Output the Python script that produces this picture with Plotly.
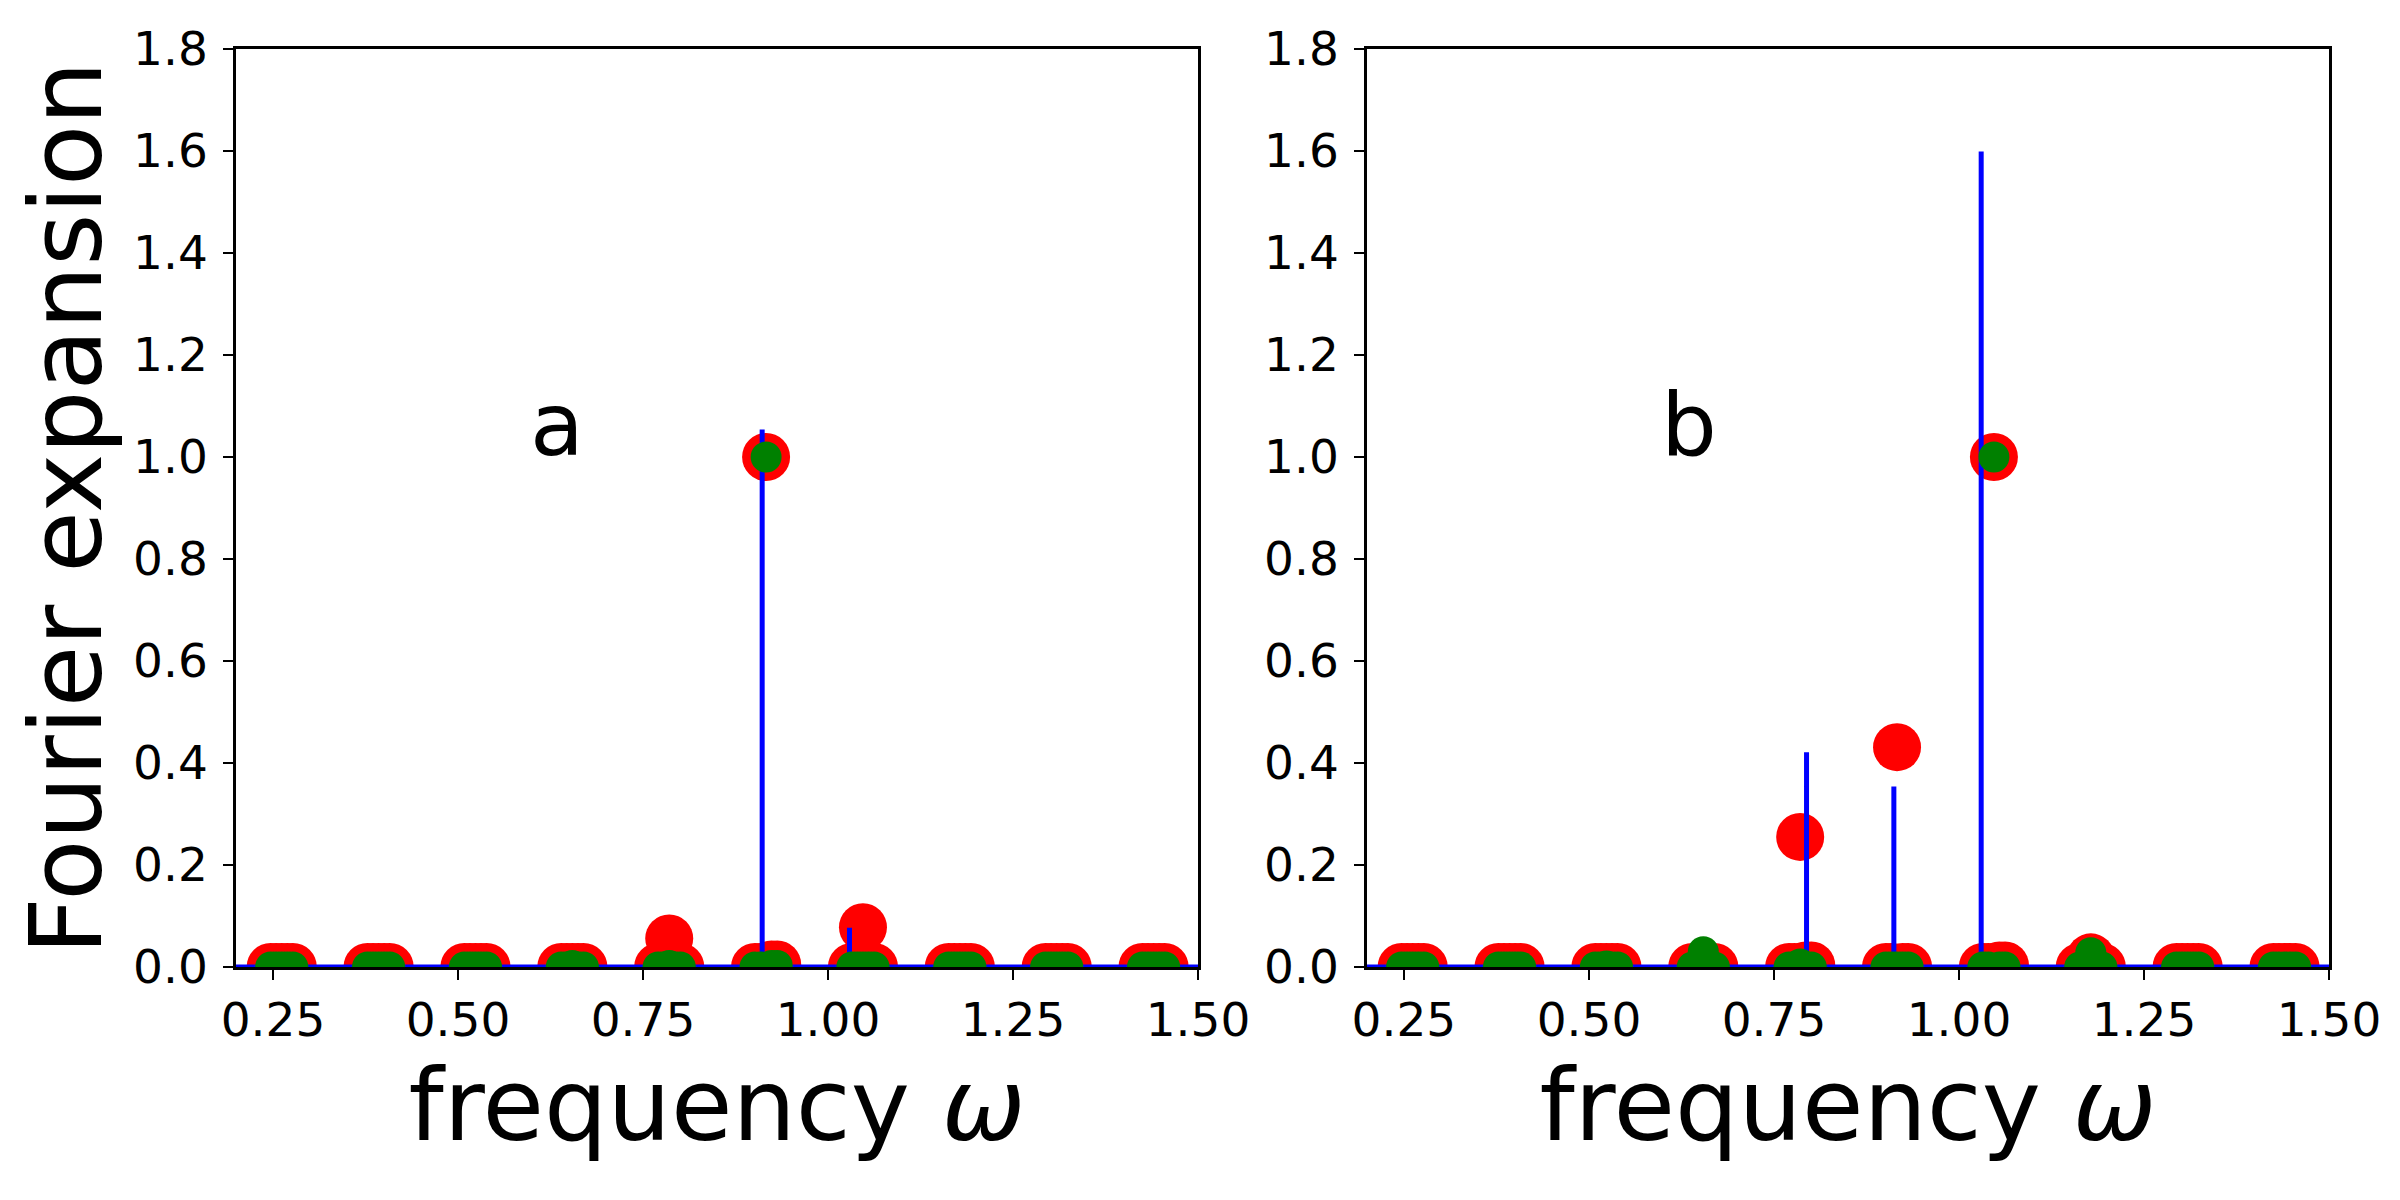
import plotly.graph_objects as go
from plotly.subplots import make_subplots

# frequencies omega_k = k*pi/24, k = 2..11
omega = [0.2618, 0.3927, 0.5236, 0.6545, 0.7854, 0.9163, 1.0472, 1.1781, 1.3090, 1.4399]
# each coefficient is drawn as a small cluster of points around omega_k
shifts = [-0.015, -0.0075, 0.0, 0.0075, 0.015]

# panel a: values at the cluster positions (left edge, centre, right edge)
red_a_lo = [0, 0, 0, 0, 0, 0, 0, 0, 0, 0]
red_a_mid = [0, 0, 0, 0, 0.056, 1.0, 0.078, 0, 0, 0]
red_a_hi = [0, 0, 0, 0, 0, 0.005, 0, 0, 0, 0]
green_a_lo = [0, 0, 0, 0, 0, 0, 0, 0, 0, 0]
green_a_mid = [0, 0, 0, 0.003, 0.003, 1.0, 0, 0, 0, 0]
green_a_hi = [0, 0, 0, 0, 0, 0.003, 0, 0, 0, 0]
blue_a_x = [0.20, 0.911, 0.911, 0.911, 1.029, 1.029, 1.029, 1.50]
blue_a_y = [0, 0, 1.054, 0, 0, 0.077, 0, 0]

# panel b
red_b_lo = [0, 0, 0, 0, 0, 0, 0, 0, 0, 0]
red_b_mid = [0, 0, 0, 0, 0.255, 0.431, 1.0, 0.019, 0, 0]
red_b_hi = [0, 0, 0, 0, 0.003, 0, 0.003, 0, 0, 0]
green_b_lo = [0, 0, 0, 0, 0, 0, 0, 0, 0, 0]
green_b_mid = [0, 0, 0.002, 0.030, 0.006, 0, 1.0, 0.028, 0, 0]
green_b_hi = [0, 0, 0, 0, 0, 0, 0, 0, 0, 0]
blue_b_x = [0.20, 0.794, 0.794, 0.794, 0.912, 0.912, 0.912, 1.030, 1.030, 1.030, 1.50]
blue_b_y = [0, 0, 0.421, 0, 0, 0.354, 0, 0, 1.599, 0, 0]

x_ticks = [0.25, 0.50, 0.75, 1.00, 1.25, 1.50]
y_ticks = [0.0, 0.2, 0.4, 0.6, 0.8, 1.0, 1.2, 1.4, 1.6, 1.8]
panel_labels = ['a', 'b']

fig = make_subplots(rows=1, cols=2, horizontal_spacing=0.0807)


def add_points(col, vals_lo, vals_mid, vals_hi, color, size):
    xs, ys = [], []
    for s in shifts:
        if s < 0:
            vals = vals_lo
        elif s > 0:
            vals = vals_hi
        else:
            vals = vals_mid
        xs += [w + s for w in omega]
        ys += vals
    fig.add_trace(go.Scatter(x=xs, y=ys, mode='markers',
                             marker=dict(color=color, size=size, line=dict(width=0)),
                             showlegend=False), row=1, col=col)


def add_blue(col, bx, by):
    fig.add_trace(go.Scatter(x=bx, y=by, mode='lines',
                             line=dict(color='blue', width=5),
                             showlegend=False), row=1, col=col)


add_points(1, red_a_lo, red_a_mid, red_a_hi, 'red', 48)
add_blue(1, blue_a_x, blue_a_y)
add_points(1, green_a_lo, green_a_mid, green_a_hi, 'green', 31)

add_points(2, red_b_lo, red_b_mid, red_b_hi, 'red', 48)
add_blue(2, blue_b_x, blue_b_y)
add_points(2, green_b_lo, green_b_mid, green_b_hi, 'green', 31)

axis_style = dict(showline=True, linecolor='black', linewidth=2.5, mirror=True,
                  ticks='outside', ticklen=10, tickwidth=2, tickcolor='black',
                  showgrid=False, zeroline=False,
                  tickfont=dict(family='DejaVu Sans', size=47, color='black'))

for col in [1, 2]:
    fig.update_xaxes(range=[0.2, 1.5], tickvals=x_ticks,
                     ticktext=['%.2f' % t for t in x_ticks],
                     title=dict(text='frequency <i>ω</i>', standoff=0,
                                font=dict(family='DejaVu Sans', size=100, color='black')),
                     ticklabelstandoff=0,
                     row=1, col=col, **axis_style)
    fig.update_yaxes(range=[0, 1.8], tickvals=y_ticks,
                     ticktext=['%.1f' % t for t in y_ticks],
                     ticklabelstandoff=6,
                     row=1, col=col, **axis_style)

fig.update_yaxes(title=dict(text='Fourier expansion', standoff=4,
                            font=dict(family='DejaVu Sans', size=100, color='black')),
                 row=1, col=1)

for i, lab in enumerate(panel_labels):
    fig.add_annotation(x=0.6, y=1.0, xref='x%s' % ('' if i == 0 else i + 1),
                       yref='y%s' % ('' if i == 0 else i + 1),
                       text=lab, showarrow=False, xanchor='left', yanchor='bottom',
                       xshift=-4, yshift=-21,
                       font=dict(family='DejaVu Sans', size=88, color='black'))

# margins are 8 px smaller on the top/left to offset the page's body margin
fig.update_layout(width=2400, height=1200,
                  margin=dict(l=228, r=79, t=41, b=241),
                  plot_bgcolor='white', paper_bgcolor='white')

fig.write_html("out.html")
